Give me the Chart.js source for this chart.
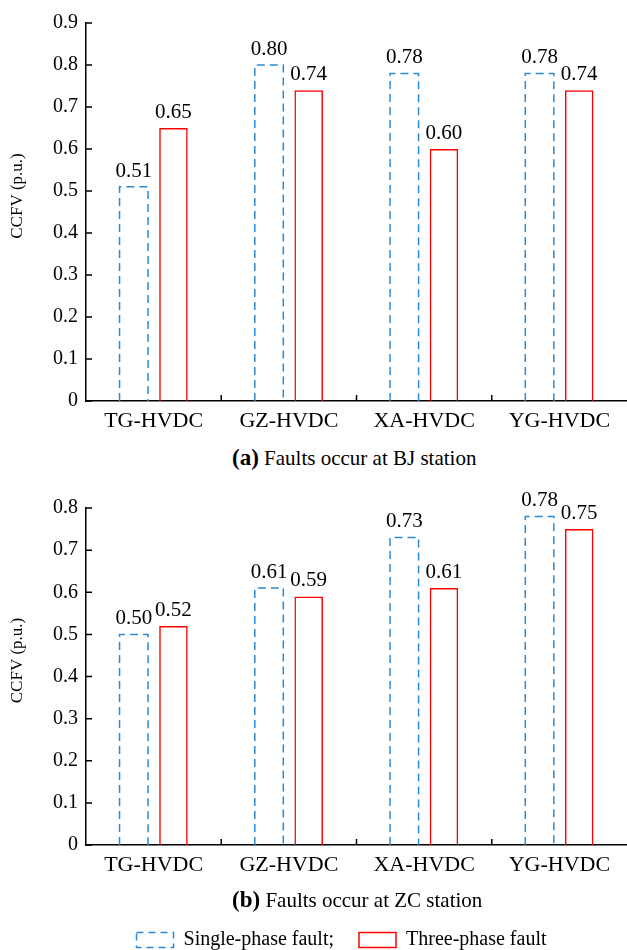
<!DOCTYPE html>
<html>
<head>
<meta charset="utf-8">
<script src="https://cdn.jsdelivr.net/npm/chart.js@4"></script>
<style>
  html, body { margin: 0; padding: 0; background: #fff; overflow: hidden; }
  .wrap { position: relative; width: 627px; height: 950px; overflow: hidden; }
  .chart-box { position: absolute; left: 0; width: 627px; }
  .caption {
    position: absolute;
    left: 232px;
    font-family: "Liberation Serif", "Times New Roman", serif;
    font-size: 21px;
    line-height: 1;
    color: #000;
    white-space: nowrap;
  }
  .caption b { font-size: 23px; }
</style>
</head>
<body>
<div class="wrap">
  <div class="chart-box" style="top:0;height:445px"><canvas id="chart-bj" width="627" height="445"></canvas></div>
  <div class="caption" style="top:446px"><b>(a)</b> Faults occur at BJ station</div>
  <div class="chart-box" style="top:470px;height:490px"><canvas id="chart-zc" width="627" height="490"></canvas></div>
  <div class="caption" style="top:888px"><b>(b)</b> Faults occur at ZC station</div>
</div>
<script>
const stations = ['TG-HVDC', 'GZ-HVDC', 'XA-HVDC', 'YG-HVDC'];
const seriesNames = ['Single-phase fault', 'Three-phase fault'];

// faults at BJ station
const singleBJ = [0.51, 0.80, 0.78, 0.78];
const threeBJ = [0.65, 0.74, 0.60, 0.74];
// faults at ZC station
const singleZC = [0.50, 0.61, 0.73, 0.78];
const threeZC = [0.52, 0.59, 0.61, 0.75];

const yMaxBJ = 0.9;
const yMaxZC = 0.8;
const yStep = 0.1;
const yTitle = 'CCFV (p.u.)';

const serif = '"Liberation Serif", "Times New Roman", serif';
const blue = '#2b8ad6';
const red = '#ff0000';

// dashed outline for single-phase bars + value labels on top
const barDecor = {
  id: 'barDecor',
  afterDatasetsDraw(chart) {
    const ctx = chart.ctx;
    ctx.save();
    chart.data.datasets.forEach((ds, i) => {
      const meta = chart.getDatasetMeta(i);
      meta.data.forEach((bar, j) => {
        const half = bar.width / 2;
        if (ds.dashed) {
          ctx.strokeStyle = ds.lineColor;
          ctx.lineWidth = 1.5;
          ctx.setLineDash([8, 5]);
          ctx.beginPath();
          ctx.moveTo(bar.x - half, bar.base);
          ctx.lineTo(bar.x - half, bar.y);
          ctx.lineTo(bar.x + half, bar.y);
          ctx.lineTo(bar.x + half, bar.base);
          ctx.stroke();
        }
        ctx.setLineDash([]);
        ctx.fillStyle = '#000';
        ctx.font = '21px ' + serif;
        ctx.textAlign = 'center';
        ctx.textBaseline = 'alphabetic';
        ctx.fillText(ds.data[j].toFixed(2), bar.x, bar.y - 10);
      });
    });
    ctx.restore();
  }
};

// inward tick marks and the y title
const axisTicks = {
  id: 'axisTicks',
  afterDraw(chart) {
    const { ctx, chartArea } = chart;
    const x = chart.scales.x;
    const y = chart.scales.y;
    ctx.save();
    ctx.strokeStyle = '#000';
    ctx.lineWidth = 1.5;
    ctx.beginPath();
    y.ticks.forEach((t, i) => {
      const py = y.getPixelForTick(i);
      ctx.moveTo(chartArea.left, py);
      ctx.lineTo(chartArea.left + 6, py);
    });
    for (let i = 1; i < x.ticks.length; i++) {
      const px = (x.getPixelForTick(i - 1) + x.getPixelForTick(i)) / 2;
      ctx.moveTo(px, chartArea.bottom);
      ctx.lineTo(px, chartArea.bottom - 6);
    }
    ctx.stroke();

    ctx.translate(18, (chartArea.top + chartArea.bottom) / 2 - 16);
    ctx.rotate(-Math.PI / 2);
    ctx.font = '17px ' + serif;
    ctx.fillStyle = '#000';
    ctx.textAlign = 'center';
    ctx.textBaseline = 'middle';
    ctx.fillText(yTitle, 0, 0);
    ctx.restore();
  }
};

// legend sits a little left of the plot centre in the original
const legendShift = {
  id: 'legendShift',
  afterUpdate(chart) {
    if (chart.legend && chart.legend.options.display) {
      chart.legend.left -= 15;
      chart.legend.right -= 15;
    }
  }
};

const makeChart = (id, single, three, yMax, padTop, xHeight, showLegend) => {
  const canvas = document.getElementById(id);
  return new Chart(canvas, {
    type: 'bar',
    data: {
      labels: stations,
      datasets: [
        {
          label: seriesNames[0],
          data: single,
          backgroundColor: 'rgba(0,0,0,0)',
          borderWidth: 0,
          dashed: true,
          lineColor: blue,
          categoryPercentage: 0.586,
          barPercentage: 0.72,
        },
        {
          label: seriesNames[1],
          data: three,
          backgroundColor: 'rgba(0,0,0,0)',
          borderColor: red,
          borderWidth: 1.5,
          lineColor: red,
          categoryPercentage: 0.586,
          barPercentage: 0.72,
        },
      ],
    },
    options: {
      responsive: false,
      animation: false,
      devicePixelRatio: 1,
      layout: { padding: { top: padTop, left: 0, right: 0, bottom: 0 } },
      scales: {
        x: {
          grid: { display: false, drawTicks: false },
          border: { color: '#000', width: 1.5 },
          ticks: { color: '#000', font: { family: serif, size: 22 }, padding: 7 },
          afterFit: (s) => { s.height = xHeight; },
        },
        y: {
          min: 0,
          max: yMax,
          grid: { display: false, drawTicks: false },
          border: { color: '#000', width: 1.5 },
          ticks: { stepSize: yStep, color: '#000', font: { family: serif, size: 20 }, padding: 8 },
          afterFit: (s) => { s.width = 86; },
        },
      },
      plugins: {
        title: { display: false },
        tooltip: { enabled: false },
        legend: {
          display: showLegend,
          position: 'bottom',
          fullSize: false,
          labels: {
            boxWidth: 37,
            boxHeight: 15,
            padding: 25,
            color: '#000',
            font: { family: serif, size: 20 },
            generateLabels: (chart) => chart.data.datasets.map((ds, i, all) => ({
              text: i < all.length - 1 ? ds.label + ';' : ds.label,
              fillStyle: 'rgba(0,0,0,0)',
              strokeStyle: ds.lineColor,
              lineWidth: 1.5,
              lineDash: ds.dashed ? [7, 5] : [],
              fontColor: '#000',
              hidden: false,
              datasetIndex: i,
            })),
          },
        },
      },
    },
    plugins: [barDecor, axisTicks, legendShift],
  });
};

makeChart('chart-bj', singleBJ, threeBJ, yMaxBJ, 23, 44, false);
makeChart('chart-zc', singleZC, threeZC, yMaxZC, 38, 60, true);
</script>
</body>
</html>
